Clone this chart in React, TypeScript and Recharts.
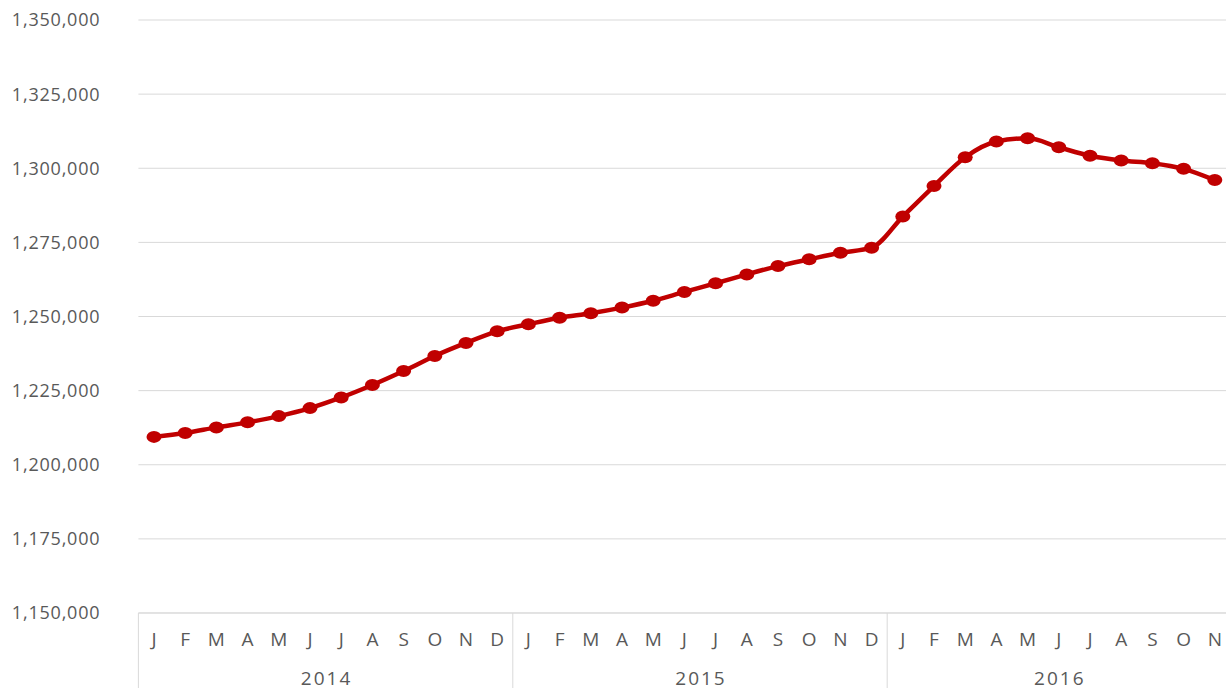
import React from "react";
import { CartesianGrid, Line, LineChart, XAxis, YAxis } from "recharts";

// monthly values
const MONTHS = ["J", "F", "M", "A", "M", "J", "J", "A", "S", "O", "N", "D"];
const YEARS = [2014, 2015, 2016];
const VALUES_2014 = [
  1209400, 1210700, 1212600, 1214300, 1216400, 1219100, 1222700, 1226900, 1231600, 1236700, 1241100, 1245000,
];
const VALUES_2015 = [
  1247400, 1249600, 1251100, 1253000, 1255300, 1258300, 1261200, 1264200, 1267000, 1269300, 1271500, 1273200,
];
const VALUES_2016 = [1283700, 1294000, 1303700, 1309000, 1310100, 1307100, 1304200, 1302600, 1301700, 1299800, 1296000];
const Y_TICKS = [1150000, 1175000, 1200000, 1225000, 1250000, 1275000, 1300000, 1325000, 1350000];

const SERIES = [VALUES_2014, VALUES_2015, VALUES_2016];
const rows = YEARS.flatMap((year, i) =>
  SERIES[i].map((value, m) => ({ key: `${year}-${m}`, month: MONTHS[m], monthIndex: m, year, value }))
);
const yearCount = (year: number) => rows.filter((r) => r.year === year).length;

const CHART_W = 1240;
const CHART_H = 700;
const Y_AXIS_W = 138.4;
const MARGIN = { top: 20, right: 9.6, left: 0, bottom: 7 };
const X_AXIS_H = 80;
const PLOT_W = CHART_W - Y_AXIS_W - MARGIN.left - MARGIN.right;
const AXIS_Y = CHART_H - MARGIN.bottom - X_AXIS_H;

const FONT = "'Open Sans', 'Liberation Sans', sans-serif";
const TEXT = "#595959";
const GRID = "#d9d9d9";
const RED = "#c00000";

function MonthTick(props: any) {
  const { x, index } = props;
  const row = rows[index];
  if (!row) return null;
  const bw = PLOT_W / rows.length;
  const first = row.monthIndex === 0;
  return (
    <g>
      <text x={x} y={AXIS_Y + 33} textAnchor="middle" fill={TEXT} fontSize={19} fontFamily={FONT}>
        {row.month}
      </text>
      {first && <line x1={x - bw / 2} x2={x - bw / 2} y1={AXIS_Y} y2={AXIS_Y + 90} stroke={GRID} strokeWidth={1} />}
      {first && (
        <text
          x={x + ((yearCount(row.year) - 1) / 2) * bw + 1}
          y={AXIS_Y + 72}
          textAnchor="middle"
          fill={TEXT}
          fontSize={19}
          fontFamily={FONT}
          letterSpacing={2}
        >
          {row.year}
        </text>
      )}
    </g>
  );
}

function Dot(props: any) {
  const { cx, cy, index } = props;
  if (cx == null || cy == null) return null;
  return <ellipse key={index} cx={cx} cy={cy} rx={7.5} ry={6} fill={RED} />;
}

export default function App() {
  return (
    <div style={{ position: "fixed", left: 0, top: 0, width: 1226, height: 688, overflow: "hidden", background: "#fff" }}>
      <LineChart width={CHART_W} height={CHART_H} data={rows} margin={MARGIN}>
        <CartesianGrid stroke={GRID} vertical={false} />
        <XAxis
          dataKey="key"
          scale="band"
          interval={0}
          height={X_AXIS_H}
          axisLine={{ stroke: GRID }}
          tickLine={false}
          tick={<MonthTick />}
        />
        <YAxis
          width={Y_AXIS_W}
          domain={[1150000, 1350000]}
          ticks={Y_TICKS}
          allowDataOverflow
          axisLine={false}
          tickLine={false}
          tickSize={0}
          tickMargin={38}
          tick={{ fill: TEXT, fontSize: 18, fontFamily: FONT, letterSpacing: 0.8 }}
          tickFormatter={(v: number) => v.toLocaleString("en-US")}
        />
        <Line
          type="monotone"
          dataKey="value"
          stroke={RED}
          strokeWidth={4.5}
          dot={<Dot />}
          activeDot={false}
          isAnimationActive={false}
        />
      </LineChart>
    </div>
  );
}
